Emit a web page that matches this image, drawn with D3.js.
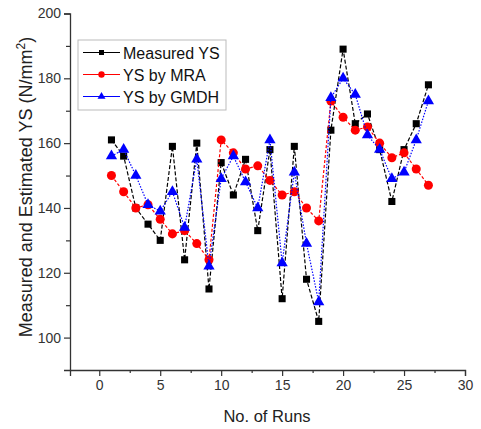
<!DOCTYPE html>
<html>
<head>
<meta charset="utf-8">
<script src="https://cdn.jsdelivr.net/npm/d3@7"></script>
<style>
  body { margin: 0; background: #fff; }
  svg { display: block; font-family: Arial, "Liberation Sans", sans-serif; }
</style>
</head>
<body>
<div id="chart"></div>
<script>
// runs 1..27
let runs = d3.range(1, 28)
let measured = [161, 156, 140, 135, 130, 159, 124, 160, 115, 154, 144, 155, 133, 158, 112, 159, 118, 105, 164, 189, 166, 169, 158, 142, 158, 166, 178]
let mra = [150, 145, 140, 141, 136.5, 132, 133, 129, 124, 161, 157, 152, 153, 148.5, 144, 145, 140, 136, 173, 168, 164, 165, 160, 155.5, 157, 152, 147]
let gmdh = [156, 158, 150, 141, 139, 145, 134, 155, 122, 149, 156, 148, 140, 161, 123, 151, 129, 111, 174, 180, 175, 162.5, 158, 149, 151, 161, 173]
let seriesNames = ["Measured YS", "YS by MRA", "YS by GMDH"]
let xMajor = [0, 5, 10, 15, 20, 25, 30]
let yMajor = [100, 120, 140, 160, 180, 200]

let width = 481, height = 429

let svg = d3.select("#chart")
  .append("svg")
  .attr("width", width)
  .attr("height", height)

let x = d3.scaleLinear().domain([-2.4, 30]).range([70, 465])
let y = d3.scaleLinear().domain([90, 200]).range([370, 13.5])

// axes
let xAxis = svg.append("g")
  .attr("transform", `translate(0,${y(90)})`)
  .call(d3.axisBottom(x).tickValues(xMajor).tickSize(6).tickPadding(4).tickFormat(d3.format("d")))
svg.append("g")
  .attr("transform", `translate(0,${y(90)})`)
  .call(d3.axisBottom(x).tickValues(d3.range(2.5, 30, 5)).tickSize(3).tickFormat(""))
  .call(g => g.select(".domain").remove())

let yAxis = svg.append("g")
  .attr("transform", `translate(${x(-2.4)},0)`)
  .call(d3.axisLeft(y).tickValues(yMajor).tickSize(6).tickPadding(3).tickFormat(d3.format("d")))
svg.append("g")
  .attr("transform", `translate(${x(-2.4)},0)`)
  .call(d3.axisLeft(y).tickValues(d3.range(110, 200, 20)).tickSize(4).tickFormat(""))
  .call(g => g.select(".domain").remove())

svg.selectAll(".domain").attr("stroke", "#333").attr("stroke-width", 1.3)
svg.selectAll(".tick line").attr("stroke", "#333").attr("stroke-width", 1.2)
svg.selectAll(".tick text").attr("fill", "#333").style("font-size", "14px")
  .style("font-family", "Arial, 'Liberation Sans', sans-serif")

svg.append("text")
  .attr("x", 267).attr("y", 422)
  .attr("text-anchor", "middle")
  .style("font-size", "16.5px")
  .attr("fill", "#222")
  .text("No. of Runs")

let yTitle = svg.append("text")
  .attr("transform", "translate(32,187) rotate(-90)")
  .attr("text-anchor", "middle")
  .style("font-size", "18px")
  .attr("fill", "#222")
yTitle.append("tspan").text("Measured and Estimated YS (N/mm")
yTitle.append("tspan").attr("dy", -7).style("font-size", "12px").text("2")
yTitle.append("tspan").attr("dy", 7).text(")")

// series
let series = [
  { name: seriesNames[0], values: measured, color: "#000000", dash: "4,2", shape: d3.symbolSquare, size: 50 },
  { name: seriesNames[1], values: mra, color: "#ff0000", dash: "3,2", shape: d3.symbolCircle, size: 64 },
  { name: seriesNames[2], values: gmdh, color: "#0000ff", dash: "1.5,1.5", shape: d3.symbolTriangle, size: 55 }
]

let line = d3.line()
  .x((d, i) => x(runs[i]))
  .y(d => y(d))

series.forEach(s => {
  svg.append("path")
    .datum(s.values)
    .attr("fill", "none")
    .attr("stroke", s.color)
    .attr("stroke-width", 1.2)
    .attr("stroke-dasharray", s.dash)
    .attr("d", line)
  svg.selectAll(null)
    .data(s.values)
    .enter()
    .append("path")
    .attr("d", d3.symbol().type(s.shape).size(s.size))
    .attr("transform", (d, i) => `translate(${x(runs[i])},${y(d)})`)
    .attr("fill", s.color)
})

// legend
let legend = svg.append("g")
legend.append("rect")
  .attr("x", 78).attr("y", 40)
  .attr("width", 148).attr("height", 70)
  .attr("fill", "#fff")
  .attr("stroke", "#bbb")
  .attr("stroke-width", 1)

series.forEach((s, i) => {
  let ly = 52.5 + i * 22
  legend.append("line")
    .attr("x1", 83).attr("x2", 120)
    .attr("y1", ly).attr("y2", ly)
    .attr("stroke", s.color)
    .attr("stroke-width", 1.2)
  legend.append("path")
    .attr("d", d3.symbol().type(s.shape).size(s.size * 0.5))
    .attr("transform", `translate(101.5,${ly})`)
    .attr("fill", s.color)
  legend.append("text")
    .attr("x", 123).attr("y", ly + 6)
    .style("font-size", "16px")
    .attr("fill", "#111")
    .text(s.name)
})
</script>
</body>
</html>
